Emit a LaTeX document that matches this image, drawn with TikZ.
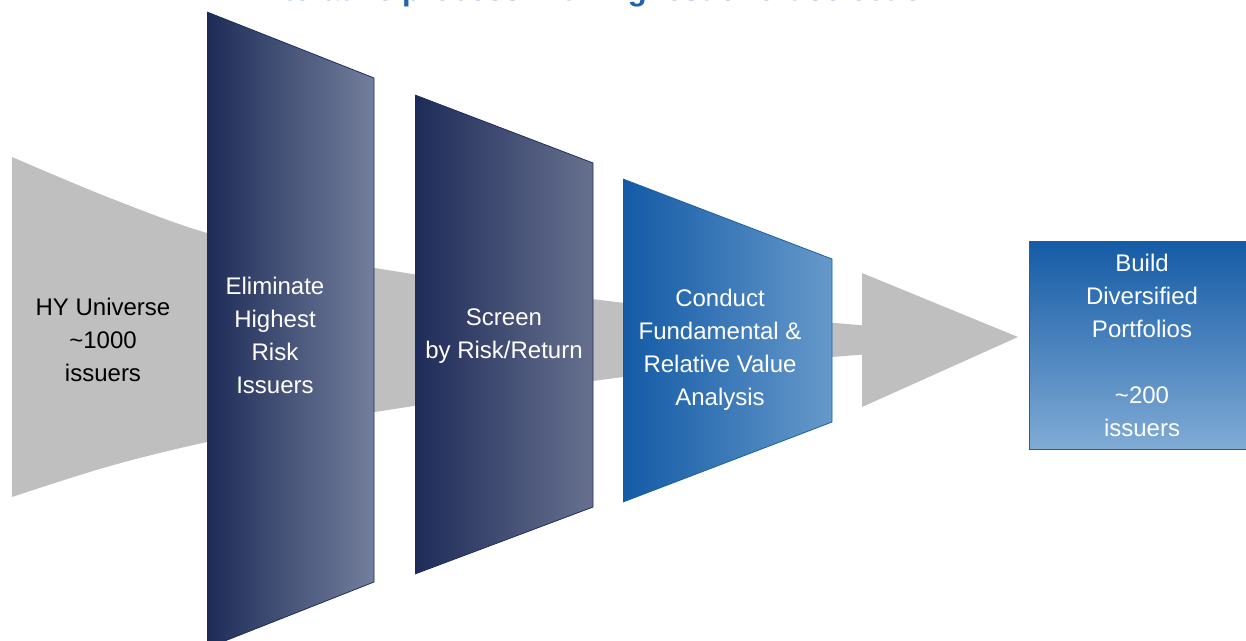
\documentclass[tikz,border=0pt]{standalone}
\usepackage{fontspec}
\setmainfont{Liberation Sans}
\definecolor{funnelgray}{HTML}{BFBFBF}
\definecolor{navyL}{HTML}{1E2B58}
\definecolor{navyR1}{HTML}{737F9C}
\definecolor{navyR2}{HTML}{67718F}
\definecolor{navyedge}{HTML}{1F2D5E}
\definecolor{blueL}{HTML}{135AA6}
\definecolor{blueR}{HTML}{6699CA}
\definecolor{blueedge}{HTML}{1B5EAA}
\definecolor{boxtop}{HTML}{155BA6}
\definecolor{boxbot}{HTML}{80ABD5}
\definecolor{titleblue}{HTML}{1C63B0}
\tikzset{
  x=1pt, y=-1pt,
  lbl/.style={font=\fontsize{24}{33}\selectfont, align=center, inner sep=0pt},
  wlbl/.style={lbl, text=white},
  panel/.style={draw=navyedge, line width=0.8pt},
}
\begin{document}
\begin{tikzpicture}
\useasboundingbox (0,0) rectangle (1246,640);
% title (clipped at top)
\node[anchor=base, font=\bfseries\fontsize{31}{31}\selectfont, text=titleblue, inner sep=0pt] (title) at (608,0.6) {Iterative process with highest effort selection};
% gray funnel
\fill[funnelgray] plot[smooth, tension=0.6] coordinates {(12,157) (110,198) (207,233) (300,254) (375,268) (500,287) (600,300) (700,311) (870,326)}
  -- plot[smooth, tension=0.6] coordinates {(870,354) (700,368) (600,380) (500,393) (375,412) (300,424) (207,442) (110,466) (12,497)} -- cycle;
% gray arrow head
\fill[funnelgray] (862,273) -- (1018,337) -- (862,407) -- cycle;
% panel 1
\shade[left color=navyL, right color=navyR1] (207,12) -- (374,78) -- (374,582) -- (207,648) -- cycle;
\draw[panel] (207,12) -- (374,78) -- (374,582) -- (207,648);
% panel 2
\shade[left color=navyL, right color=navyR2] (415,95) -- (593,163) -- (593,507) -- (415,574) -- cycle;
\draw[panel] (415,95) -- (593,163) -- (593,507) -- (415,574);
% panel 3
\shade[left color=blueL, right color=blueR] (623,179) -- (832,259) -- (832,422) -- (623,502) -- cycle;
\draw[draw=blueedge, line width=0.8pt] (623,179) -- (832,259) -- (832,422) -- (623,502);
% final box
\shade[top color=boxtop, bottom color=boxbot] (1029,241) rectangle (1250,449);
\draw[draw=blueedge, line width=0.8pt] (1250,241) -- (1029,241) -- (1029,449) -- (1250,449);
% labels
\node[lbl] (hy) at (103,340) {HY Universe\\\textasciitilde1000\\issuers};
\node[wlbl] (elim) at (275,335) {Eliminate\\Highest\\Risk\\Issuers};
\node[wlbl] (screen) at (504,336) {Screen\\by Risk/Return};
\node[wlbl] (conduct) at (720,350) {Conduct\\Fundamental \&\\Relative Value\\Analysis};
\node[wlbl] (build) at (1142,345) {Build\\Diversified\\Portfolios\\[33pt]\textasciitilde200\\issuers};
\end{tikzpicture}
\end{document}
